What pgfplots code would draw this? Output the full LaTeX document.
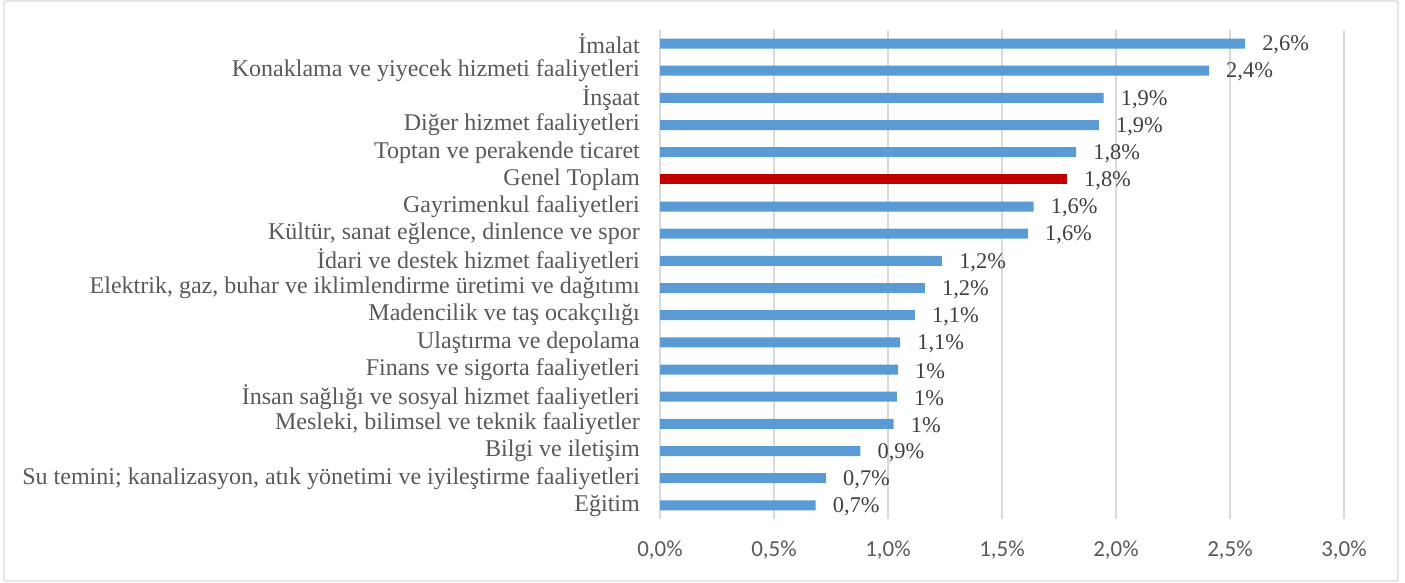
\documentclass[border=0pt]{standalone}
\usepackage{fontspec}
\setmainfont{Liberation Serif}
\newfontfamily\carlito{Carlito}
\usepackage{pgfplots}
\usepackage{pgfplotstable}
\pgfplotsset{compat=1.18}
\definecolor{barblue}{HTML}{5B9BD5}
\definecolor{barred}{HTML}{C00000}
\definecolor{gridgray}{HTML}{D9D9D9}
\definecolor{labgray}{HTML}{595959}
\definecolor{valgray}{HTML}{404040}
\pgfplotstableread{
y val lab
0 0.683 0,7
1 0.728 0,7
2 0.879 0,9
3 1.025 1
4 1.039 1
5 1.044 1
6 1.053 1,1
7 1.118 1,1
8 1.162 1,2
9 1.237 1,2
10 1.614 1,6
11 1.639 1,6
13 1.825 1,8
14 1.925 1,9
15 1.946 1,9
16 2.408 2,4
17 2.566 2,6
}\blues
\pgfplotstableread{
y val lab
12 1.785 1,8
}\reds
\begin{document}
\begin{tikzpicture}[x=1bp,y=1bp]
\path[use as bounding box] (0,0) rectangle (1405,583);
\draw[gridgray, line width=1.3bp, rounded corners=2bp] (4,2) rectangle (1398,582);
\begin{axis}[
  at={(660bp,64bp)}, anchor=south west,
  scale only axis, width=684bp, height=489bp,
  xmin=0, xmax=3, ymin=-0.5, ymax=17.5,
  xbar, bar width=10bp, bar shift=0pt,
  axis line style={draw=none},
  major tick length=0pt,
  xmajorgrids, grid style={gridgray, line width=1.3bp},
  xtick={0,0.5,1,1.5,2,2.5,3},
  xticklabels={{0,0\%},{0,5\%},{1,0\%},{1,5\%},{2,0\%},{2,5\%},{3,0\%}},
  xticklabel style={font=\carlito\fontsize{23}{23}\selectfont, text=labgray, anchor=center, inner sep=0pt, yshift=-31bp},
  ytick={0,...,17},
  yticklabels={Eğitim,
    {Su temini; kanalizasyon, atık yönetimi ve iyileştirme faaliyetleri},
    Bilgi ve iletişim,
    {Mesleki, bilimsel ve teknik faaliyetler},
    İnsan sağlığı ve sosyal hizmet faaliyetleri,
    Finans ve sigorta faaliyetleri,
    Ulaştırma ve depolama,
    Madencilik ve taş ocakçılığı,
    {Elektrik, gaz, buhar ve iklimlendirme üretimi ve dağıtımı},
    İdari ve destek hizmet faaliyetleri,
    {Kültür, sanat eğlence, dinlence ve spor},
    Gayrimenkul faaliyetleri,
    Genel Toplam,
    Toptan ve perakende ticaret,
    Diğer hizmet faaliyetleri,
    İnşaat,
    Konaklama ve yiyecek hizmeti faaliyetleri,
    İmalat},
  yticklabel style={font=\fontsize{24.1}{24}\selectfont, text=labgray, anchor=east, inner sep=0pt, xshift=-20bp},
  point meta=explicit symbolic,
  nodes near coords={\pgfplotspointmeta\%},
  nodes near coords style={font=\fontsize{22.5}{22}\selectfont, text=valgray, anchor=west, inner sep=0pt, xshift=17bp, yshift=-1.5bp},
]
\addplot[fill=barblue, draw=none] table[x=val, y=y, meta=lab] {\blues};
\addplot[fill=barred, draw=none] table[x=val, y=y, meta=lab] {\reds};
\end{axis}
\end{tikzpicture}
\end{document}
